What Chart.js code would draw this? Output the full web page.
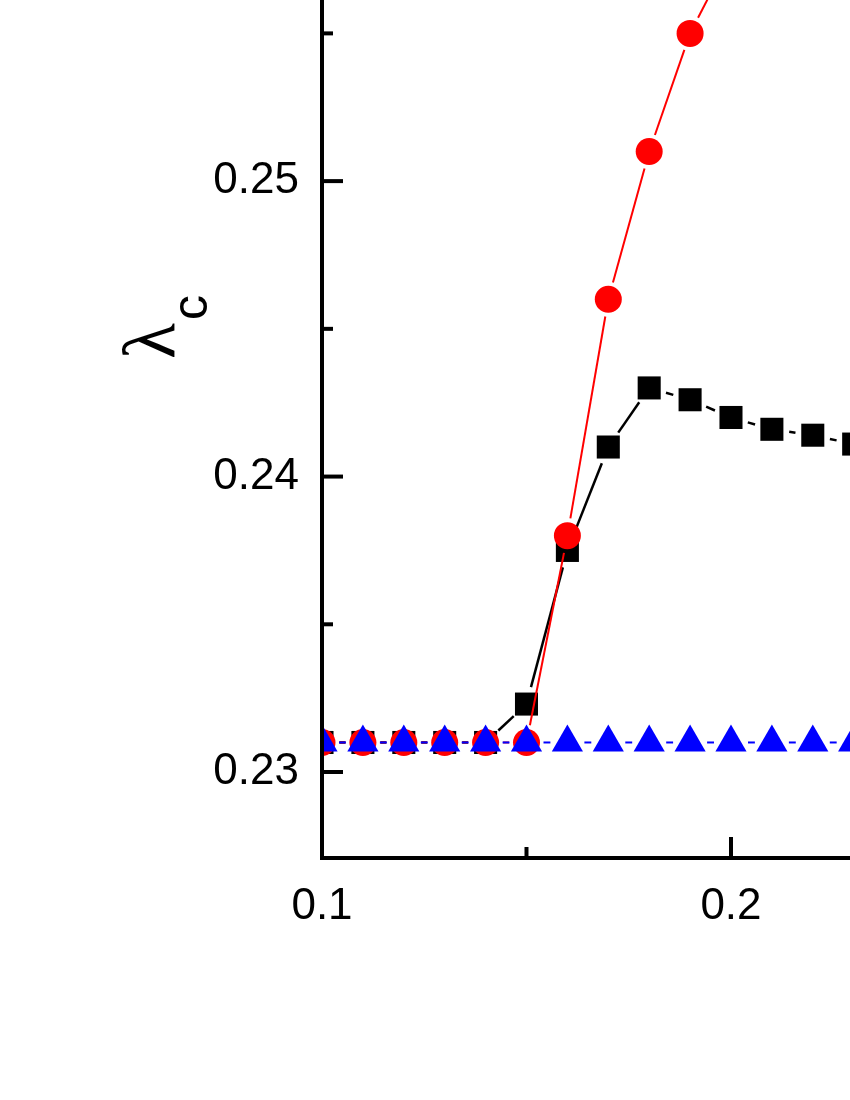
<!DOCTYPE html>
<html>
<head>
<meta charset="utf-8">
<script src="https://cdn.jsdelivr.net/npm/chart.js@4.4.1/dist/chart.umd.min.js"></script>
<style>
  html, body { margin: 0; padding: 0; background: #fff; }
  #wrap { width: 850px; height: 1100px; }
</style>
</head>
<body>
<div id="wrap"><canvas id="lambdaChart" width="850" height="1100"></canvas></div>
<script>
// data
const xValues = [0.10, 0.11, 0.12, 0.13, 0.14, 0.15, 0.16, 0.17, 0.18, 0.19, 0.20, 0.21, 0.22, 0.23];
const blackSquares = [0.2310, 0.2310, 0.2310, 0.2310, 0.2310, 0.2323, 0.2375, 0.2410, 0.2430, 0.2426, 0.2420, 0.2416, 0.2414, 0.2411];
const redCircles = [0.2310, 0.2310, 0.2310, 0.2310, 0.2310, 0.2310, 0.2380, 0.2460, 0.2510, 0.2550, 0.2577];
const blueTriangles = [0.2310, 0.2310, 0.2310, 0.2310, 0.2310, 0.2310, 0.2310, 0.2310, 0.2310, 0.2310, 0.2310, 0.2310, 0.2310, 0.2310];

const xMajorTicks = [0.1, 0.2];
const xMinorTicks = [0.15];
const yMajorTicks = [0.23, 0.24, 0.25];
const yMinorTicks = [0.235, 0.245, 0.255];

const toPoints = (ys) => ys.map((y, i) => ({ x: xValues[i], y: y }));

// lines with a small gap around each marker (Origin style)
const gapLines = {
  id: 'gapLines',
  beforeDatasetDraw(chart, args) {
    const ds = chart.data.datasets[args.index];
    const pts = args.meta.data;
    const area = chart.chartArea;
    const ctx = chart.ctx;
    const gap = ds.gapSize;
    ctx.save();
    ctx.beginPath();
    ctx.rect(area.left, area.top, area.right - area.left, area.bottom - area.top);
    ctx.clip();
    ctx.strokeStyle = ds.gapLineColor;
    ctx.lineWidth = ds.gapLineWidth;
    ctx.lineCap = 'butt';
    for (let i = 1; i < pts.length; i++) {
      const a = pts[i - 1], b = pts[i];
      if (!isFinite(a.x) || !isFinite(a.y) || !isFinite(b.x) || !isFinite(b.y)) continue;
      const dx = b.x - a.x, dy = b.y - a.y;
      const len = Math.hypot(dx, dy);
      if (len <= 2 * gap) continue;
      const ux = dx / len, uy = dy / len;
      ctx.beginPath();
      ctx.moveTo(a.x + ux * gap, a.y + uy * gap);
      ctx.lineTo(b.x - ux * gap, b.y - uy * gap);
      ctx.stroke();
    }
    ctx.restore();
  }
};

// axis lines, inward ticks and the rotated lambda_c title
const frame = {
  id: 'frame',
  afterDraw(chart) {
    const ctx = chart.ctx;
    const a = chart.chartArea;
    const xs = chart.scales.x, ys = chart.scales.y;
    ctx.save();
    ctx.strokeStyle = '#000';
    ctx.lineWidth = 4;
    ctx.beginPath();
    ctx.moveTo(a.left, a.top);
    ctx.lineTo(a.left, a.bottom);
    ctx.lineTo(a.right, a.bottom);
    ctx.stroke();

    const yTick = (v, len) => {
      const p = ys.getPixelForValue(v);
      ctx.beginPath(); ctx.moveTo(a.left, p); ctx.lineTo(a.left + len, p); ctx.stroke();
    };
    const xTick = (v, len) => {
      const p = xs.getPixelForValue(v);
      ctx.beginPath(); ctx.moveTo(p, a.bottom); ctx.lineTo(p, a.bottom - len); ctx.stroke();
    };
    yMajorTicks.forEach(v => yTick(v, 21));
    yMinorTicks.forEach(v => yTick(v, 11));
    xMajorTicks.forEach(v => xTick(v, 21));
    xMinorTicks.forEach(v => xTick(v, 11));

    ctx.fillStyle = '#000';
    ctx.translate(174, 359);
    ctx.rotate(-Math.PI / 2);
    ctx.textBaseline = 'alphabetic';
    ctx.textAlign = 'left';
    ctx.font = '74px "Liberation Serif"';
    ctx.fillText('\u03bb', 0, 0);
    ctx.font = '50px "Liberation Sans"';
    ctx.fillText('c', 39, 33);
    ctx.restore();
  }
};

const tickFont = { family: 'Liberation Sans', size: 44 };

new Chart(document.getElementById('lambdaChart').getContext('2d'), {
  type: 'line',
  data: {
    datasets: [
      {
        label: 'triangles',
        data: toPoints(blueTriangles),
        showLine: false,
        pointStyle: 'triangle',
        pointRadius: 18,
        pointBorderWidth: 0,
        pointBackgroundColor: '#0000ff',
        gapLineColor: '#0000ff',
        gapLineWidth: 2,
        gapSize: 17,
        clip: 0,
        order: 1
      },
      {
        label: 'circles',
        data: toPoints(redCircles),
        showLine: false,
        pointStyle: 'circle',
        pointRadius: 13.5,
        pointBorderWidth: 0,
        pointBackgroundColor: '#ff0000',
        gapLineColor: '#ff0000',
        gapLineWidth: 2,
        gapSize: 17.5,
        clip: 0,
        order: 2
      },
      {
        label: 'squares',
        data: toPoints(blackSquares),
        showLine: false,
        pointStyle: 'rect',
        pointRadius: 16.3,
        pointBorderWidth: 0,
        pointBackgroundColor: '#000000',
        gapLineColor: '#000000',
        gapLineWidth: 2.5,
        gapSize: 17.5,
        clip: 0,
        order: 3
      }
    ]
  },
  options: {
    responsive: false,
    animation: false,
    layout: { padding: 0, autoPadding: false },
    plugins: {
      legend: { display: false },
      tooltip: { enabled: false }
    },
    scales: {
      x: {
        type: 'linear',
        min: 0.1,
        max: 0.2291,
        grid: { display: false, drawTicks: false },
        border: { display: false },
        afterBuildTicks: (s) => { s.ticks = xMajorTicks.map(v => ({ value: v })); },
        afterFit: (s) => { s.height = 242; s.paddingLeft = 0; s.paddingRight = 0; },
        ticks: {
          padding: 22,
          font: tickFont,
          color: '#000',
          maxRotation: 0,
          autoSkip: false,
          callback: (v) => Number(v).toFixed(1)
        }
      },
      y: {
        type: 'linear',
        min: 0.22709,
        max: 0.25613,
        grid: { display: false, drawTicks: false },
        border: { display: false },
        afterBuildTicks: (s) => { s.ticks = yMajorTicks.map(v => ({ value: v })); },
        afterFit: (s) => { s.width = 322; s.paddingTop = 0; s.paddingBottom = 0; },
        ticks: {
          padding: 23,
          font: tickFont,
          color: '#000',
          autoSkip: false,
          callback: (v) => Number(v).toFixed(2)
        }
      }
    }
  },
  plugins: [gapLines, frame]
});
</script>
</body>
</html>
